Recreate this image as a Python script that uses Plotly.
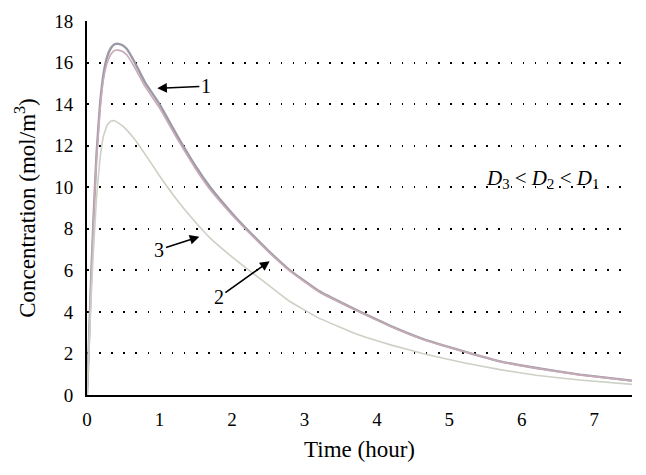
import plotly.graph_objects as go

# values
time_h = [0, 0.02, 0.04, 0.06, 0.09, 0.13, 0.18, 0.23, 0.28, 0.33, 0.38, 0.43,
          0.49, 0.55, 0.66, 0.8, 1.0, 1.25, 1.5, 1.7, 2.0, 2.2, 2.5, 2.8, 3.2,
          3.77, 4.2, 4.63, 5.2, 5.7, 6.2, 6.8, 7.55]
conc_1 = [0, 1.8, 3.9, 5.9, 8.5, 11.5, 14.0, 15.5, 16.3, 16.7, 16.88, 16.9,
          16.83, 16.65, 16.0, 15.05, 14.0, 12.45, 11.0, 10.0, 8.75, 8.0, 6.95,
          6.0, 5.0, 4.0, 3.3, 2.7, 2.1, 1.62, 1.3, 0.98, 0.68]
conc_2 = [0, 1.8, 3.85, 5.8, 8.4, 11.3, 13.75, 15.25, 16.0, 16.4, 16.58, 16.6,
          16.53, 16.36, 15.75, 14.85, 13.82, 12.3, 10.88, 9.88, 8.67, 7.93,
          6.9, 5.96, 4.97, 3.98, 3.28, 2.68, 2.09, 1.61, 1.29, 0.97, 0.67]
conc_3 = [0, 1.6, 3.3, 4.9, 7.0, 9.4, 11.4, 12.5, 13.0, 13.18, 13.2, 13.1,
          12.95, 12.75, 12.3, 11.6, 10.55, 9.35, 8.3, 7.55, 6.65, 6.1, 5.3,
          4.5, 3.7, 2.87, 2.4, 2.0, 1.55, 1.22, 0.95, 0.72, 0.5]

series = [
    ("1", conc_1, "#9c9aa6", 2.4),
    ("2", conc_2, "#c7aab6", 1.6),
    ("3", conc_3, "#cdd0c4", 1.6),
]

# label, text position (t, c), arrow head (t, c)
labels = [
    ("1", 1.64, 14.86, 0.97, 14.76),
    ("2", 1.82, 4.71, 2.52, 6.44),
    ("3", 1.0, 7.0, 1.55, 7.62),
]

font_family = "Liberation Serif"

fig = go.Figure()
for name, vals, color, width in series:
    fig.add_trace(go.Scatter(
        x=time_h, y=vals,
        mode="lines",
        name=name,
        line=dict(color=color, width=width, shape="spline", smoothing=0.3),
        showlegend=False,
    ))

for text, tx, ty, hx, hy in labels:
    fig.add_annotation(
        x=hx, y=hy, ax=tx, ay=ty,
        xref="x", yref="y", axref="x", ayref="y",
        text=text, showarrow=True,
        arrowhead=2, arrowsize=1.2, arrowwidth=1.6, arrowcolor="black",
        font=dict(family=font_family, size=20, color="black"),
    )

fig.add_annotation(
    x=6.29, y=10.4, xref="x", yref="y",
    text="<i>D</i><sub>3</sub> &lt; <i>D</i><sub>2</sub> &lt; <i>D</i><sub>1</sub>",
    showarrow=False,
    font=dict(family=font_family, size=21, color="black"),
)

# the page body has an 8px margin, so the margins are shifted to compensate
fig.update_layout(
    width=646, height=475,
    margin=dict(l=79, r=22, t=13, b=88),
    paper_bgcolor="white", plot_bgcolor="white",
    font=dict(family=font_family, size=19, color="black"),
    xaxis=dict(
        range=[0, 7.52],
        tickvals=[0, 1, 2, 3, 4, 5, 6, 7],
        showgrid=False, zeroline=False,
        showline=True, linecolor="black", linewidth=2,
        ticks="", ticklabelstandoff=6,
        automargin=False,
        title=dict(text="Time (hour)", standoff=12),
    ),
    yaxis=dict(
        range=[0, 18],
        tickvals=[0, 2, 4, 6, 8, 10, 12, 14, 16, 18],
        showgrid=True, gridcolor="black", gridwidth=1.6, griddash="1.6px,10.5px",
        zeroline=False,
        showline=True, linecolor="black", linewidth=2,
        ticks="", ticklabelstandoff=8,
        automargin=False,
        title=dict(text="Concentration (mol/m<sup>3</sup>)", standoff=12),
    ),
)

fig.write_html("out.html")
